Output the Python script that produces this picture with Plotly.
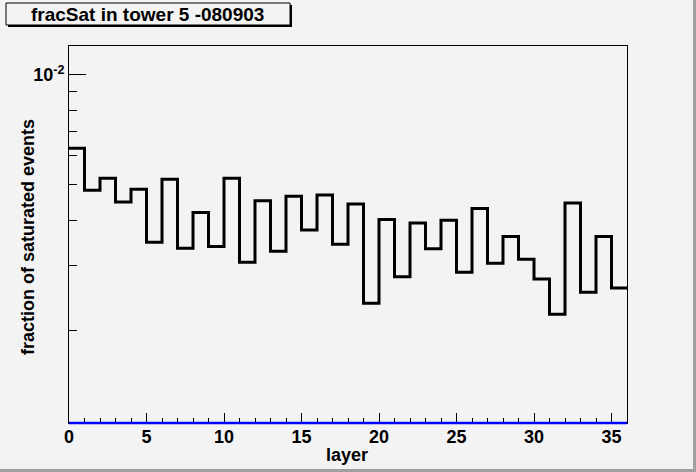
import numpy as np
import plotly.graph_objects as go

# bin edges of the layer histogram (36 bins, 0..36)
layer_edges = list(range(37))

# fraction of saturated events per layer
frac_sat = [6.30e-3, 4.83e-3, 5.21e-3, 4.49e-3, 4.86e-3, 3.48e-3, 5.18e-3, 3.35e-3,
            4.20e-3, 3.39e-3, 5.21e-3, 3.07e-3, 4.52e-3, 3.29e-3, 4.65e-3, 3.76e-3,
            4.69e-3, 3.44e-3, 4.43e-3, 2.37e-3, 4.02e-3, 2.80e-3, 3.93e-3, 3.34e-3,
            4.00e-3, 2.88e-3, 4.31e-3, 3.05e-3, 3.61e-3, 3.13e-3, 2.76e-3, 2.21e-3,
            4.46e-3, 2.54e-3, 3.61e-3, 2.61e-3]

x_ticks = [0, 5, 10, 15, 20, 25, 30, 35]
y_major = [1e-2]
y_major_text = ["10<sup>-2</sup>"]
y_minor = [2e-3, 3e-3, 4e-3, 5e-3, 6e-3, 7e-3, 8e-3, 9e-3]

y_range = [1.114e-3, 1.20e-2]

bg = '#f3f3f3'
font = "Liberation Sans, Arial, sans-serif"

# pixel geometry of the frame, used to place the decorations
L, R, T, B = 69, 627, 46, 423
W, H = R - L, B - T


def px(x):
    return (x - L) / W


def py(y):
    return (B - y) / H


fig = go.Figure()

fig.add_trace(go.Scatter(
    x=layer_edges,
    y=frac_sat + [frac_sat[-1]],
    mode='lines',
    line=dict(color='black', width=3, shape='hv'),
    showlegend=False,
    hoverinfo='skip'))

fig.update_layout(
    width=696, height=472,
    margin=dict(l=L, r=696 - R, t=T, b=472 - B),
    paper_bgcolor=bg,
    plot_bgcolor=bg,
    font=dict(family=font, size=18, color='black'),
    showlegend=False)

fig.update_xaxes(
    range=[0, 36], automargin=False,
    tickvals=x_ticks,
    ticks='inside', ticklen=10, tickwidth=1, tickcolor='black',
    minor=dict(dtick=1, ticks='inside', ticklen=5, tickwidth=1, tickcolor='black'),
    showgrid=False, zeroline=False,
    showline=True, linecolor='black', linewidth=1, mirror=True,
    ticklabelstandoff=-3,
    tickfont=dict(family=font, size=18, color='black', weight='bold'))

fig.update_yaxes(
    type='log', automargin=False,
    range=[np.log10(y_range[0]), np.log10(y_range[1])],
    tickvals=y_major, ticktext=y_major_text,
    ticks='inside', ticklen=17, tickwidth=1, tickcolor='black',
    minor=dict(tickvals=y_minor, ticks='inside', ticklen=8, tickwidth=1, tickcolor='black'),
    showgrid=False, zeroline=False,
    showline=True, linecolor='black', linewidth=1, mirror=True,
    tickfont=dict(family=font, size=18, color='black', weight='bold'))

# axis titles
fig.add_annotation(xref='paper', yref='paper', x=px(347), y=py(455),
                   text='<b>layer</b>', showarrow=False,
                   font=dict(family=font, size=18, color='black'),
                   xanchor='center', yanchor='middle')
fig.add_annotation(xref='paper', yref='paper', x=px(28), y=py(237),
                   text='<b>fraction of saturated events</b>', showarrow=False,
                   textangle=-90,
                   font=dict(family=font, size=18, color='black'),
                   xanchor='center', yanchor='middle')

# blue baseline along the bottom of the frame
fig.add_shape(type='line', xref='x', yref='paper', x0=0, x1=36, y0=0, y1=0,
              line=dict(color='blue', width=2.5))

# title box with shadow
fig.add_shape(type='rect', xref='paper', yref='paper', layer='above',
              x0=px(8), x1=px(292), y0=py(27), y1=py(5),
              line=dict(width=0), fillcolor='black')
fig.add_shape(type='rect', xref='paper', yref='paper', layer='above',
              x0=px(6), x1=px(290), y0=py(25), y1=py(3),
              line=dict(color='black', width=1), fillcolor=bg)
fig.add_annotation(xref='paper', yref='paper', x=px(147), y=py(14.5),
                   text='<b>fracSat in tower 5 -080903</b>', showarrow=False,
                   font=dict(family=font, size=19, color='black'),
                   xanchor='center', yanchor='middle')

# canvas bevel on right and bottom
fig.add_shape(type='line', xref='paper', yref='paper',
              x0=px(694.5), x1=px(694.5), y0=py(471), y1=py(0),
              line=dict(color='#a0a0a0', width=3))
fig.add_shape(type='line', xref='paper', yref='paper',
              x0=px(0), x1=px(696), y0=py(470.5), y1=py(470.5),
              line=dict(color='#a0a0a0', width=3))

# drop the page's default body margin so the canvas sits at the window corner
fig.write_html("out.html",
               config={'displayModeBar': False},
               post_script="document.body.style.margin='0';document.body.style.background='#f3f3f3';")
